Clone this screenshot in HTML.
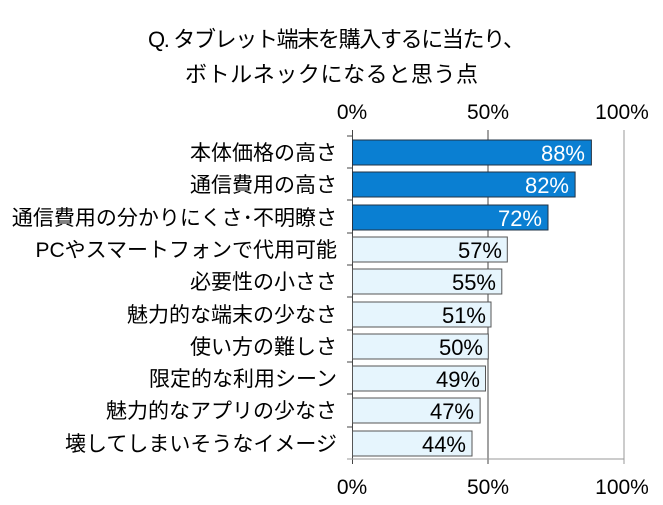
<!DOCTYPE html>
<html><head><meta charset="utf-8"><style>
body{margin:0;background:#fff;}
svg text{font-family:"Liberation Sans","Noto Sans CJK JP",sans-serif;}
</style></head><body>
<svg width="663" height="500" xmlns="http://www.w3.org/2000/svg">
<text x="148" y="47" font-size="22" textLength="377" fill="#000">Q. タブレット端末を購入するに当たり、</text>
<text x="185" y="82" font-size="22" textLength="293" fill="#000">ボトルネックになると思う点</text>
<g font-size="21" fill="#000" text-anchor="middle">
<text x="352" y="119">0%</text><text x="488" y="119">50%</text><text x="622" y="119">100%</text>
<text x="352" y="494">0%</text><text x="488" y="494">50%</text><text x="622" y="494">100%</text>
</g>
<line x1="488" y1="130" x2="488" y2="464" stroke="#444" stroke-width="1"/>
<line x1="624" y1="130" x2="624" y2="464" stroke="#999" stroke-width="1"/>
<line x1="352.5" y1="130" x2="352.5" y2="464" stroke="#444" stroke-width="1"/>
<line x1="347" y1="459" x2="624" y2="459" stroke="#999" stroke-width="1"/>
<g stroke="#444">
<line x1="347" y1="136" x2="352" y2="136"/><line x1="347" y1="168" x2="352" y2="168"/><line x1="347" y1="200" x2="352" y2="200"/><line x1="347" y1="233" x2="352" y2="233"/><line x1="347" y1="265" x2="352" y2="265"/><line x1="347" y1="297" x2="352" y2="297"/><line x1="347" y1="330" x2="352" y2="330"/><line x1="347" y1="362" x2="352" y2="362"/><line x1="347" y1="394" x2="352" y2="394"/><line x1="347" y1="427" x2="352" y2="427"/>
</g>
<g font-size="21" text-anchor="end" fill="#000">
<rect x="352.5" y="140" width="238.9" height="25" fill="#0a7fd2" stroke="#234" stroke-width="1"/>
<text x="585" y="161" fill="#fff" font-size="22">88%</text>
<text x="337" y="160">本体価格の高さ</text>
<rect x="352.5" y="172" width="222.6" height="25" fill="#0a7fd2" stroke="#234" stroke-width="1"/>
<text x="569" y="193" fill="#fff" font-size="22">82%</text>
<text x="337" y="192">通信費用の高さ</text>
<rect x="352.5" y="205" width="195.5" height="25" fill="#0a7fd2" stroke="#234" stroke-width="1"/>
<text x="542" y="226" fill="#fff" font-size="22">72%</text>
<text x="337" y="225">通信費用の分かりにくさ･不明瞭さ</text>
<rect x="352.5" y="237" width="154.8" height="25" fill="#e6f5fd" stroke="#555" stroke-width="1"/>
<text x="502" y="258" font-size="22">57%</text>
<text x="337" y="257">PCやスマートフォンで代用可能</text>
<rect x="352.5" y="269" width="149.3" height="25" fill="#e6f5fd" stroke="#555" stroke-width="1"/>
<text x="496" y="290" font-size="22">55%</text>
<text x="337" y="289">必要性の小ささ</text>
<rect x="352.5" y="302" width="138.5" height="25" fill="#e6f5fd" stroke="#555" stroke-width="1"/>
<text x="486" y="323" font-size="22">51%</text>
<text x="337" y="322">魅力的な端末の少なさ</text>
<rect x="352.5" y="334" width="135.8" height="25" fill="#e6f5fd" stroke="#555" stroke-width="1"/>
<text x="483" y="355" font-size="22">50%</text>
<text x="337" y="354">使い方の難しさ</text>
<rect x="352.5" y="366" width="133" height="25" fill="#e6f5fd" stroke="#555" stroke-width="1"/>
<text x="480" y="387" font-size="22">49%</text>
<text x="337" y="386">限定的な利用シーン</text>
<rect x="352.5" y="398" width="127.6" height="25" fill="#e6f5fd" stroke="#555" stroke-width="1"/>
<text x="474" y="419" font-size="22">47%</text>
<text x="337" y="418">魅力的なアプリの少なさ</text>
<rect x="352.5" y="431" width="119.5" height="25" fill="#e6f5fd" stroke="#555" stroke-width="1"/>
<text x="466" y="452" font-size="22">44%</text>
<text x="337" y="451">壊してしまいそうなイメージ</text>
</g>
</svg>
</body></html>
